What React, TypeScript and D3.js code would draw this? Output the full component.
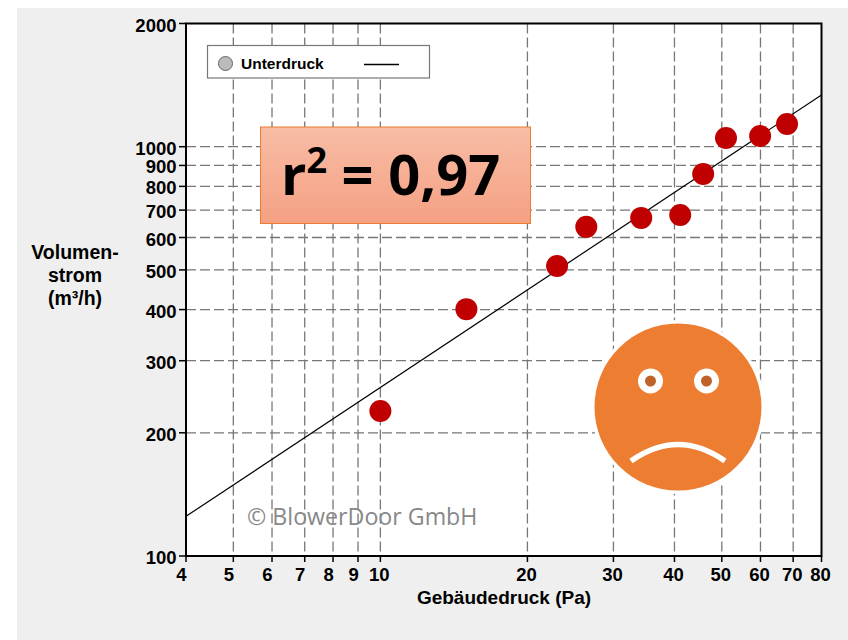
import React from "react";
import * as d3 from "d3";

const xTicks = [4, 5, 6, 7, 8, 9, 10, 20, 30, 40, 50, 60, 70, 80];
const yTicks = [100, 200, 300, 400, 500, 600, 700, 800, 900, 1000, 2000];
const pressure = [10, 15, 23, 26.4, 34.2, 41.1, 45.8, 51, 59.9, 68];
const flow = [226, 401, 511, 637, 670, 681, 858, 1050, 1062, 1136];
const fitPressure = [4, 80];
const fitFlow = [125, 1338];

const x = d3.scaleLog().domain([4, 80]).range([186, 821.5]);
const y = d3.scaleLog().domain([100, 2000]).range([556, 23.5]);
const fitLine = d3.line<number>().x((d) => x(d)).y((_, i) => y(fitFlow[i]));
const FONT = "'Liberation Sans', Arial, sans-serif";
const axisText = { fontFamily: FONT, fontWeight: 700, fontSize: 18.5, fill: "#000" };

export default function App() {
  return (
    <svg width={848} height={640} style={{ position: "absolute", left: 0, top: 0 }}>
      <defs>
        <linearGradient id="boxFill" x1="0" y1="0" x2="0" y2="1">
          <stop offset="0" stopColor="#f7bda5" />
          <stop offset="1" stopColor="#f5a083" />
        </linearGradient>
      </defs>
      <rect x={17} y={8} width={831} height={632} fill="#efefef" />
      <rect x={186} y={23.5} width={635.5} height={532.5} fill="#fff" />

      {xTicks.slice(1, -1).map((t) => (
        <line key={t} x1={x(t)} x2={x(t)} y1={23.5} y2={556} stroke="#777" strokeWidth={1.3} strokeDasharray="10 4" />
      ))}
      {yTicks.slice(1, -1).map((t) => (
        <line key={t} x1={186} x2={821.5} y1={y(t)} y2={y(t)} stroke="#777" strokeWidth={1.3} strokeDasharray="10 4" />
      ))}

      <path d={fitLine(fitPressure) ?? ""} fill="none" stroke="#000" strokeWidth={1.2} />

      <rect x={186} y={23.5} width={635.5} height={532.5} fill="none" stroke="#000" strokeWidth={2} />
      {xTicks.map((t) => (
        <g key={t}>
          <line x1={x(t)} x2={x(t)} y1={556} y2={562} stroke="#000" strokeWidth={1.5} />
          <text x={x(t) - (t < 10 ? 4.5 : 1)} y={581} textAnchor="middle" {...axisText}>{t}</text>
        </g>
      ))}
      {yTicks.map((t) => (
        <g key={t}>
          <line x1={179} x2={186} y1={y(t)} y2={y(t)} stroke="#000" strokeWidth={1.5} />
          <text x={176.5} y={y(t) + 8} textAnchor="end" {...axisText}>{t}</text>
        </g>
      ))}

      <text x={504} y={604} textAnchor="middle" fontFamily={FONT} fontWeight={700} fontSize={19}>Gebäudedruck (Pa)</text>
      <g fontFamily={FONT} fontWeight={700} fontSize={19.5} textAnchor="middle">
        <text x={75} y={259}>Volumen-</text>
        <text x={75} y={282}>strom</text>
        <text x={75} y={305}>(m³/h)</text>
      </g>

      <rect x={207.5} y={45.5} width={222} height={32.5} fill="#fff" stroke="#777" strokeWidth={1.2} />
      <circle cx={225.5} cy={63.5} r={7} fill="#bbb" stroke="#666" strokeWidth={1} />
      <text x={241} y={69} fontFamily={FONT} fontWeight={700} fontSize={15.5}>Unterdruck</text>
      <line x1={364} x2={399} y1={64.5} y2={64.5} stroke="#000" strokeWidth={1.5} />

      <rect x={260.5} y={127} width={270} height={96.5} fill="url(#boxFill)" stroke="#ed7d31" strokeWidth={1} />
      <text x={281} y={195} fontFamily="'Open Sans', sans-serif" fontWeight={700} fontSize={56} fill="#000">
        r<tspan dy={-22} fontSize={36}>2</tspan><tspan dy={22}> = 0,97</tspan>
      </text>

      {pressure.map((p, i) => (
        <circle key={p} cx={x(p)} cy={y(flow[i])} r={11} fill="#c00000" />
      ))}

      <text x={247} y={525} fontFamily="'Open Sans', sans-serif" fontSize={23.2} fill="#888">© BlowerDoor GmbH</text>

      <circle cx={678} cy={407} r={87} fill="#fff" />
      <circle cx={678} cy={407} r={83.5} fill="#ed7d31" />
      <circle cx={650.5} cy={381} r={12.5} fill="#fff" />
      <circle cx={706.5} cy={381} r={12.5} fill="#fff" />
      <circle cx={650.5} cy={381} r={5.5} fill="#c0632a" />
      <circle cx={706.5} cy={381} r={5.5} fill="#c0632a" />
      <path d="M631 461 Q678 428 725 461" fill="none" stroke="#fff" strokeWidth={5.5} />
    </svg>
  );
}
